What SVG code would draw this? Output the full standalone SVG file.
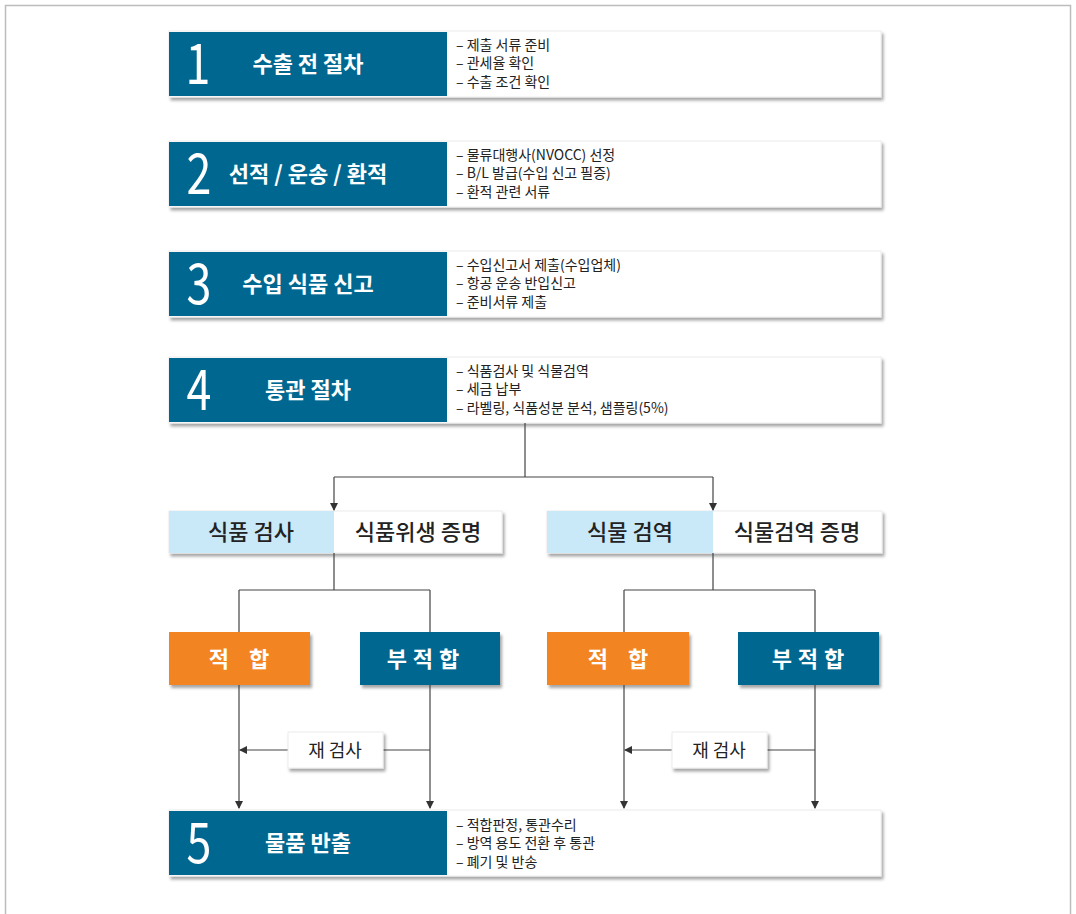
<svg xmlns="http://www.w3.org/2000/svg" width="1076" height="914" viewBox="0 0 1076 914">
<defs>
<filter id="sh" x="-5%" y="-20%" width="115%" height="160%">
<feDropShadow dx="2" dy="3" stdDeviation="1.8" flood-color="#000" flood-opacity="0.35"/>
</filter>
<marker id="ar" markerWidth="8" markerHeight="8" refX="7" refY="4" orient="auto" markerUnits="userSpaceOnUse">
<path d="M0,0 L8,4 L0,8 Z" fill="#333"/>
</marker>
<style>
.panel{fill:#fff;stroke:#ececec;stroke-width:1}
.blue{fill:#006890}
.orange{fill:#f28522}
.lblue{fill:#c9e9f9}
.num{font-family:"Noto Sans CJK KR","Noto Sans",sans-serif;font-size:56px;fill:#fff;font-weight:400}
.ttl{font-family:"Noto Sans CJK KR",sans-serif;font-size:22px;fill:#fff;font-weight:700;text-anchor:middle}
.bul{font-family:"Noto Sans CJK KR",sans-serif;font-size:14px;fill:#222}
.sub{font-family:"Noto Sans CJK KR",sans-serif;font-size:22px;fill:#222;font-weight:500;text-anchor:middle}
.res{font-family:"Noto Sans CJK KR",sans-serif;font-size:22px;fill:#fff;font-weight:700;text-anchor:middle}
.re{font-family:"Noto Sans CJK KR",sans-serif;font-size:18px;fill:#222;text-anchor:middle}
.ln{fill:none;stroke:#444;stroke-width:1.2}
</style>
</defs>
<rect x="5.5" y="5.5" width="1065" height="920" fill="#fff" stroke="#bdbdbd" stroke-width="1.5"/>

<g id="step1">
<rect class="panel" x="169" y="31" width="712" height="66" filter="url(#sh)"/>
<rect class="blue" x="169" y="32" width="278" height="64"/>
<text class="num" transform="translate(198,84) scale(0.8,1)" text-anchor="middle">1</text>
<text class="ttl" x="308" y="72">수출 전 절차</text>
<text class="bul" x="456" y="50">– 제출 서류 준비</text>
<text class="bul" x="456" y="68">– 관세율 확인</text>
<text class="bul" x="456" y="87">– 수출 조건 확인</text>
</g>

<g id="step2">
<rect class="panel" x="169" y="141" width="712" height="66" filter="url(#sh)"/>
<rect class="blue" x="169" y="142" width="278" height="64"/>
<text class="num" transform="translate(199,194) scale(0.8,1)" text-anchor="middle">2</text>
<text class="ttl" x="308" y="182">선적 / 운송 / 환적</text>
<text class="bul" x="456" y="160">– 물류대행사(NVOCC) 선정</text>
<text class="bul" x="456" y="178">– B/L 발급(수입 신고 필증)</text>
<text class="bul" x="456" y="197">– 환적 관련 서류</text>
</g>

<g id="step3">
<rect class="panel" x="169" y="251" width="712" height="66" filter="url(#sh)"/>
<rect class="blue" x="169" y="252" width="278" height="64"/>
<text class="num" transform="translate(199,304) scale(0.8,1)" text-anchor="middle">3</text>
<text class="ttl" x="308" y="292">수입 식품 신고</text>
<text class="bul" x="456" y="270">– 수입신고서 제출(수입업체)</text>
<text class="bul" x="456" y="288">– 항공 운송 반입신고</text>
<text class="bul" x="456" y="307">– 준비서류 제출</text>
</g>

<g id="step4">
<rect class="panel" x="169" y="357" width="712" height="66" filter="url(#sh)"/>
<rect class="blue" x="169" y="358" width="278" height="64"/>
<text class="num" transform="translate(199,410) scale(0.8,1)" text-anchor="middle">4</text>
<text class="ttl" x="308" y="398">통관 절차</text>
<text class="bul" x="456" y="376">– 식품검사 및 식물검역</text>
<text class="bul" x="456" y="394">– 세금 납부</text>
<text class="bul" x="456" y="413">– 라벨링, 식품성분 분석, 샘플링(5%)</text>
</g>

<g id="food-inspection">
<rect class="panel" x="169" y="511" width="333" height="42" filter="url(#sh)"/>
<rect class="lblue" x="169" y="511" width="165" height="42"/>
<text class="sub" x="251" y="540">식품 검사</text>
<text class="sub" x="418" y="540">식품위생 증명</text>
</g>

<g id="plant-quarantine">
<rect class="panel" x="547" y="511" width="335" height="42" filter="url(#sh)"/>
<rect class="lblue" x="547" y="511" width="166" height="42"/>
<text class="sub" x="630" y="540">식물 검역</text>
<text class="sub" x="797" y="540">식물검역 증명</text>
</g>

<g id="pass-left">
<rect class="orange" x="169" y="632" width="141" height="53" filter="url(#sh)"/>
<text class="res" x="239" y="667" xml:space="preserve">적    합</text>
</g>
<g id="fail-left">
<rect class="blue" x="360" y="632" width="140" height="53" filter="url(#sh)"/>
<text class="res" x="426" y="667" letter-spacing="6">부적합</text>
</g>
<g id="pass-right">
<rect class="orange" x="547" y="632" width="142" height="53" filter="url(#sh)"/>
<text class="res" x="618" y="667" xml:space="preserve">적    합</text>
</g>
<g id="fail-right">
<rect class="blue" x="738" y="632" width="141" height="53" filter="url(#sh)"/>
<text class="res" x="811" y="667" letter-spacing="6">부적합</text>
</g>

<g id="connectors">
<path class="ln" d="M525,423 V477 M334,477 H713"/>
<path class="ln" d="M334,477 V510" marker-end="url(#ar)"/>
<path class="ln" d="M713,477 V510" marker-end="url(#ar)"/>
<path class="ln" d="M334,553 V590 M239,590 H430 M239,590 V632 M430,590 V632"/>
<path class="ln" d="M713,553 V590 M624,590 H815 M624,590 V632 M815,590 V632"/>
<path class="ln" d="M239,685 V808" marker-end="url(#ar)"/>
<path class="ln" d="M430,685 V808" marker-end="url(#ar)"/>
<path class="ln" d="M624,685 V808" marker-end="url(#ar)"/>
<path class="ln" d="M815,685 V808" marker-end="url(#ar)"/>
<path class="ln" d="M430,750 H383"/>
<path class="ln" d="M288,750 H240" marker-end="url(#ar)"/>
<path class="ln" d="M815,750 H767"/>
<path class="ln" d="M672,750 H625" marker-end="url(#ar)"/>
</g>

<g id="recheck-left">
<rect class="panel" x="288" y="732" width="95" height="36" filter="url(#sh)"/>
<text class="re" x="335" y="757">재 검사</text>
</g>
<g id="recheck-right">
<rect class="panel" x="672" y="732" width="95" height="36" filter="url(#sh)"/>
<text class="re" x="719" y="757">재 검사</text>
</g>

<g id="step5">
<rect class="panel" x="169" y="810" width="712" height="66" filter="url(#sh)"/>
<rect class="blue" x="169" y="811" width="278" height="64"/>
<text class="num" transform="translate(199,863) scale(0.8,1)" text-anchor="middle">5</text>
<text class="ttl" x="308" y="851">물품 반출</text>
<text class="bul" x="456" y="830">– 적합판정, 통관수리</text>
<text class="bul" x="456" y="848">– 방역 용도 전환 후 통관</text>
<text class="bul" x="456" y="867">– 폐기 및 반송</text>
</g>
</svg>
